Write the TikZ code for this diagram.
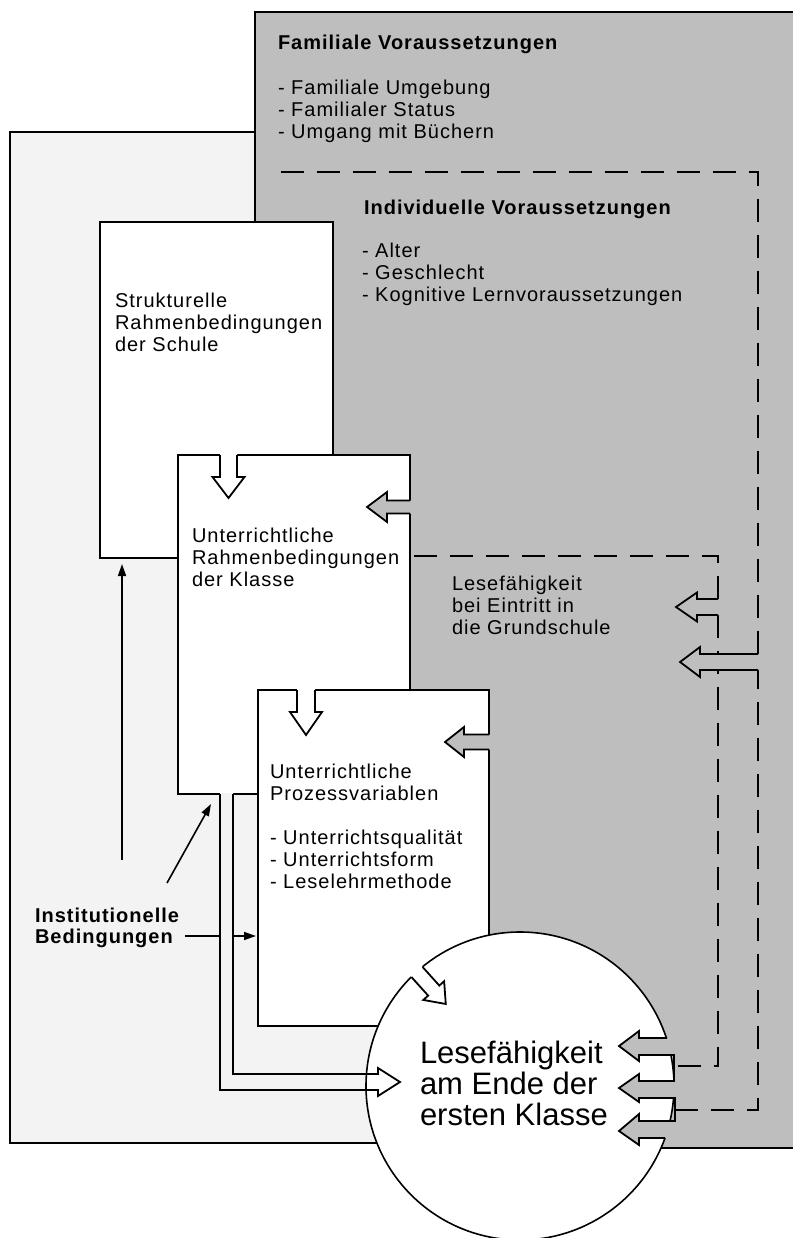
\documentclass[tikz,border=0pt]{standalone}
\usepackage{fontspec}
\setmainfont{Liberation Sans}
\newfontfamily\smallfont{Liberation Sans}[LetterSpace=5]
\usetikzlibrary{arrows.meta}
\definecolor{darkbg}{RGB}{190,190,190}
\definecolor{lightbg}{RGB}{243,243,243}
\newcommand\txtlines[1]{\parbox[t]{12cm}{\raggedright #1}}
% #1 fill, #2 tail x, #3 tail y, #4 angle, #5 length, #6 shaft half width, #7 head half width, #8 head length
\newcommand\blockarr[8]{%
  \begin{scope}[shift={(#2,#3)},rotate=#4]
    \fill[#1] (-2,-#6) -- ({#5-#8},-#6) -- ({#5-#8},-#7) -- (#5,0) -- ({#5-#8},#7) -- ({#5-#8},#6) -- (-2,#6) -- cycle;
    \draw[harrow] (0,-#6) -- ({#5-#8},-#6) -- ({#5-#8},-#7) -- (#5,0) -- ({#5-#8},#7) -- ({#5-#8},#6) -- (0,#6);
  \end{scope}}
\begin{document}
\begin{tikzpicture}[x=1pt,y=-1pt,
  frame/.style={line width=2pt},
  box/.style={draw, line width=2pt, fill=white, rectangle, inner sep=0pt, outer sep=0pt, anchor=north west},
  harrow/.style={line width=1.8pt, line join=miter},
  thinarrow/.style={line width=1.6pt, -{Triangle[length=12pt,width=8pt]}},
  dashline/.style={line width=2pt, dash pattern=on 23pt off 13pt},
  txt/.style={anchor=base west, inner sep=0pt, outer sep=0pt, font=\smallfont\fontsize{20}{22}\selectfont},
  btxt/.style={anchor=base west, inner sep=0pt, outer sep=0pt, font=\smallfont\bfseries\fontsize{20}{21}\selectfont},
  bigtxt/.style={anchor=base west, inner sep=0pt, outer sep=0pt, font=\fontsize{31}{31}\selectfont},
]
\useasboundingbox (0,0) rectangle (792,1238);

% background regions
\fill[darkbg] (255,12) -- (800,12) -- (800,1148) -- (500,1148) -- (500,1026) -- (255,1026) -- cycle;
\fill[lightbg] (10,132) -- (255,132) -- (255,222) -- (258,222) -- (258,1026) -- (489,1026) -- (489,1143) -- (10,1143) -- cycle;
\draw[frame] (255,132) -- (10,132) -- (10,1143) -- (400,1143);
\draw[frame] (255,222) -- (255,12) -- (800,12);
\draw[frame] (640,1148) -- (800,1148);

% texts of the family / individual region
\node[btxt] (famt) at (278,50) {Familiale Voraussetzungen};
\node[txt] (faml) at (278,95) {\txtlines{- Familiale Umgebung\\- Familialer Status\\- Umgang mit Büchern}};
\node[btxt] (indt) at (364,215) {Individuelle Voraussetzungen};
\node[txt] (indl) at (362,258) {\txtlines{- Alter\\- Geschlecht\\- Kognitive Lernvoraussetzungen}};
\node[txt] (eint) at (452,590) {\txtlines{Lesefähigkeit\\bei Eintritt in\\die Grundschule}};

% boxes
\node[box, minimum width=233pt, minimum height=336pt] (b1) at (100,222) {};
\node[txt] (b1t) at (115,307) {\txtlines{Strukturelle\\Rahmenbedingungen\\der Schule}};
\node[box, minimum width=232pt, minimum height=339pt] (b2) at (178,455) {};
\blockarr{white}{228.5}{455}{-90}{43}{8.5}{16}{21}
\blockarr{darkbg}{410}{507}{180}{43}{6.5}{15}{20}
\node[txt] (b2t) at (192,542) {\txtlines{Unterrichtliche\\Rahmenbedingungen\\der Klasse}};
\node[box, minimum width=231pt, minimum height=336pt] (b3) at (258,690) {};
\blockarr{white}{306}{690}{-90}{45}{9}{16}{23}
\blockarr{darkbg}{489}{742}{180}{44}{7.5}{15}{19}
\node[txt] (b3t) at (270,778) {\txtlines{Unterrichtliche\\Prozessvariablen\\[22pt]- Unterrichtsqualität\\- Unterrichtsform\\- Leselehrmethode}};

% institutional conditions
\node[btxt] (inst) at (35,922) {\txtlines{Institutionelle\\Bedingungen}};
\coordinate (i1) at (122,860);
\coordinate (i2) at (167,883);
\coordinate (i3) at (185,936);
\coordinate (t1) at (122,564);
\coordinate (t2) at (211,804);
\draw[thinarrow] (i1) -- (t1);
\draw[thinarrow] (i2) -- (t2);
\draw[thinarrow, shorten >=2pt] (i3) -- (b3.west |- i3);

% L-shaped block arrow from box 2 to the circle
\fill[lightbg] (220,793) -- (220,1090) -- (378,1090) -- (378,1096) -- (400,1082) -- (378,1068) -- (378,1074) -- (233,1074) -- (233,793) -- cycle;
\draw[harrow] (220,794) -- (220,1090) -- (378,1090) -- (378,1096) -- (400,1082) -- (378,1068) -- (378,1074) -- (233,1074) -- (233,794);

% circle
\node[circle, draw, fill=white, line width=1.6pt, minimum size=308pt, inner sep=0pt] (c) at (520,1086) {};
\draw[harrow] (360,1090) -- (378,1090) -- (378,1096) -- (400,1082) -- (378,1068) -- (378,1074) -- (360,1074);
\node[bigtxt] (ct) at (420,1063) {\txtlines{Lesefähigkeit\\am Ende der\\ersten Klasse}};
\blockarr{white}{417}{972}{-48}{43}{7.5}{14}{18}

% comb of three arrows on the right of the circle
\fill[darkbg] (667,1038) -- (639,1038) -- (639,1031) -- (619,1046) -- (639,1061) -- (639,1055) -- (674,1055) -- (674,1081) -- (639,1081) -- (639,1074) -- (619,1088) -- (639,1102) -- (639,1098) -- (675,1098) -- (675,1121) -- (639,1121) -- (639,1114) -- (619,1131) -- (639,1145) -- (639,1138) -- (665,1138) -- (700,1138) -- (700,1038) -- cycle;
\draw[harrow] (667,1038) -- (639,1038) -- (639,1031) -- (619,1046) -- (639,1061) -- (639,1055) -- (674,1055) -- (674,1081) -- (639,1081) -- (639,1074) -- (619,1088) -- (639,1102) -- (639,1098) -- (675,1098) -- (675,1121) -- (639,1121) -- (639,1114) -- (619,1131) -- (639,1145) -- (639,1138) -- (665,1138);

% dashed region borders
\coordinate (o1) at (758,654);
\coordinate (o2) at (758,670);
\coordinate (n1) at (718,599);
\coordinate (n2) at (718,615);
\draw[dashline] (o1) -- (758,172) -- (270,172);
\draw[dashline] (675,1110) -- (758,1110) -- (o2);
\draw[dashline] (n1) -- (718,556) -- (b2.east |- 0,556);
\draw[dashline] (n2) -- (718,1066) -- (674,1066);

% arrows from the dashed regions
\blockarr{darkbg}{718}{607}{180}{42}{8}{14.5}{21}
\blockarr{darkbg}{758}{662}{180}{78}{8}{15}{20}
\end{tikzpicture}
\end{document}
